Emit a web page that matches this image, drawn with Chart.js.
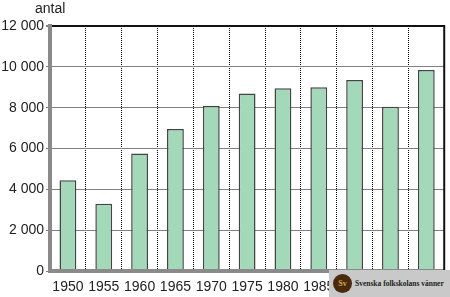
<!DOCTYPE html>
<html>
<head>
<meta charset="utf-8">
<script src="https://cdn.jsdelivr.net/npm/chart.js@4.4.1/dist/chart.umd.min.js"></script>
<style>
  body { margin: 0; background: #fff; }
  #wrap { position: relative; width: 450px; height: 297px; }
  #mark { position: absolute; left: 329px; top: 270px; width: 121px; height: 27px; background: #c9c9c9; }
  #logo { position: absolute; left: 4px; top: 4px; width: 19px; height: 19px; border-radius: 50%; background: #4a2a0c; color: #d9a64a; font: bold 8px 'Liberation Serif', serif; line-height: 19px; text-align: center; }
  #mtxt { position: absolute; left: 26px; top: 9px; font: bold 7.5px 'Liberation Serif', serif; color: #222; white-space: nowrap; }
</style>
</head>
<body>
<div id="wrap">
  <canvas id="myChart" width="450" height="297"></canvas>
  <div id="mark"><div id="logo">Sv</div><div id="mtxt">Svenska folkskolans vänner</div></div>
</div>
<script>
const myChart = document.getElementById('myChart');

const YEARS = ['1950', '1955', '1960', '1965', '1970', '1975', '1980', '1985', '1990', '1995', '2000'];
const ANTAL = [4450, 3300, 5750, 6950, 8100, 8700, 8950, 9000, 9350, 8050, 9850];
const Y_TICKS = [0, 2000, 4000, 6000, 8000, 10000, 12000];

const FONT = "'Liberation Sans', Arial, sans-serif";

// right frame, bottom axis and the "antal" label
const extras = {
  id: 'extras',
  afterDatasetsDraw(chart) {
    const { ctx, chartArea: { top, bottom, left, right } } = chart;
    ctx.save();
    ctx.strokeStyle = '#8a8a8a';
    ctx.lineWidth = 4;
    ctx.beginPath();
    ctx.moveTo(left - 2, bottom);
    ctx.lineTo(right, bottom);
    ctx.stroke();
    ctx.strokeStyle = '#111';
    ctx.lineWidth = 2;
    ctx.beginPath();
    ctx.moveTo(right, top - 1);
    ctx.lineTo(right, bottom);
    ctx.stroke();
    ctx.fillStyle = '#222';
    ctx.font = '14px ' + FONT;
    ctx.textAlign = 'left';
    ctx.textBaseline = 'middle';
    ctx.fillText('antal', left - 15, 9);
    ctx.restore();
  }
}

new Chart(myChart, {
  type: 'bar',
  data: {
    labels: YEARS,
    datasets: [{
      data: ANTAL,
      backgroundColor: '#a3d8b8',
      borderColor: '#444',
      borderWidth: 1.5,
      borderSkipped: false,
      barPercentage: 0.47,
      categoryPercentage: 1
    }]
  },
  options: {
    responsive: false,
    animation: false,
    layout: { padding: { top: 26, right: 3, left: 0, bottom: 0 } },
    scales: {
      x: {
        afterFit: (s) => { s.height = 26; },
        grid: {
          offset: true,
          color: (c) => (c.index === 0 || c.index === YEARS.length) ? 'rgba(0,0,0,0)' : '#000',
          lineWidth: 1,
          drawTicks: false
        },
        border: { display: false, dash: [1, 1] },
        ticks: { color: '#222', font: { family: FONT, size: 14 }, padding: 8, maxRotation: 0, autoSkip: false }
      },
      y: {
        min: 0,
        max: 12000,
        afterFit: (s) => { s.width = 50; },
        afterBuildTicks: (axis) => { axis.ticks = Y_TICKS.map(v => ({ value: v })); },
        grid: {
          color: (c) => c.tick.value === 12000 ? '#111' : (c.tick.value === 0 ? 'rgba(0,0,0,0)' : '#808080'),
          lineWidth: (c) => c.tick.value === 12000 ? 2 : 1,
          drawTicks: true,
          tickLength: 4,
          tickColor: '#808080'
        },
        border: { color: '#8a8a8a', width: 4 },
        ticks: {
          color: '#222',
          font: { family: FONT, size: 14 },
          padding: 2,
          callback: (v) => v >= 1000 ? Math.floor(v / 1000) + ' ' + String(v % 1000).padStart(3, '0') : String(v)
        }
      }
    },
    plugins: {
      legend: { display: false },
      tooltip: { enabled: false }
    }
  },
  plugins: [extras]
});
</script>
</body>
</html>
